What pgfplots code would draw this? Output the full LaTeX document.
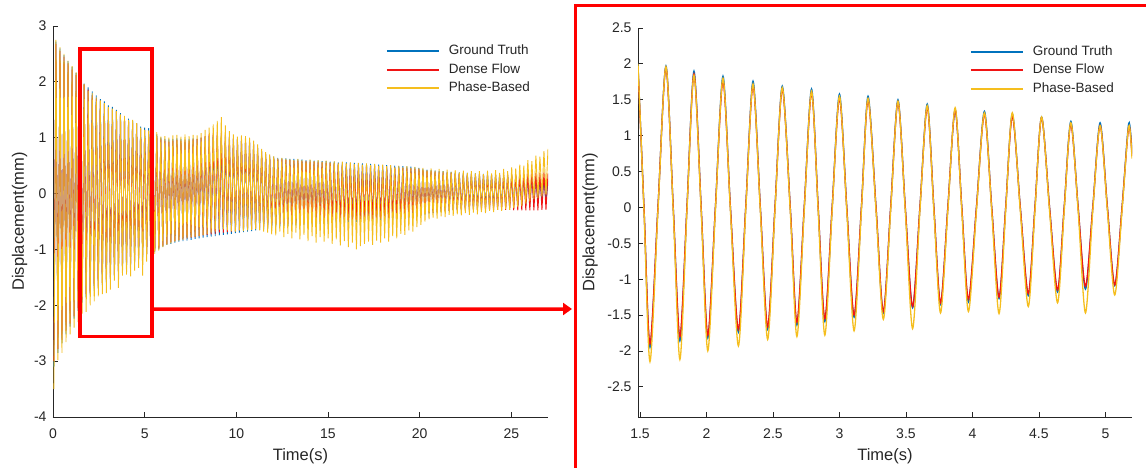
\documentclass[border=0pt]{standalone}
\usepackage{pgfplots}
\pgfplotsset{compat=1.18}
\usepackage{pgfplotstable}
\usepackage{fontspec}
\setmainfont{Liberation Sans}
\usetikzlibrary{arrows.meta}

\definecolor{gtc}{RGB}{0,114,189}
\definecolor{dfc}{RGB}{240,20,20}
\definecolor{pbc}{RGB}{245,190,30}
\definecolor{axc}{RGB}{38,38,38}

\pgfplotstableread{
t gt df pb
0.05 -3.10 -3.00 -3.50
0.16 2.72 2.68 2.75
0.27 -2.85 -2.78 -2.98
0.38 2.60 2.55 2.62
0.49 -2.68 -2.62 -2.85
0.60 2.48 2.45 2.50
0.71 -2.52 -2.46 -2.66
0.82 2.37 2.33 2.38
0.93 -2.38 -2.33 -2.52
1.04 2.27 2.22 2.28
1.15 -2.24 -2.20 -2.40
1.26 2.16 2.12 2.17
1.37 -2.10 -2.05 -2.30
1.48 2.04 2.00 2.03
1.59 -1.95 -1.90 -2.15
1.70 1.97 1.95 1.96
1.81 -1.86 -1.80 -2.12
1.92 1.90 1.86 1.84
2.03 -1.82 -1.78 -2.00
2.14 1.83 1.76 1.80
2.25 -1.74 -1.70 -1.93
2.36 1.76 1.70 1.72
2.47 -1.70 -1.66 -1.84
2.58 1.69 1.65 1.67
2.69 -1.64 -1.60 -1.80
2.80 1.65 1.60 1.62
2.91 -1.59 -1.55 -1.78
3.02 1.58 1.52 1.55
3.13 -1.53 -1.50 -1.72
3.24 1.55 1.50 1.52
3.35 -1.47 -1.45 -1.56
3.46 1.50 1.47 1.48
3.57 -1.40 -1.38 -1.69
3.68 1.44 1.40 1.42
3.79 -1.35 -1.33 -1.47
3.90 1.36 1.36 1.39
4.01 -1.32 -1.28 -1.45
4.12 1.34 1.30 1.32
4.23 -1.27 -1.25 -1.48
4.34 1.30 1.27 1.32
4.45 -1.23 -1.20 -1.38
4.56 1.26 1.25 1.26
4.67 -1.18 -1.15 -1.33
4.78 1.20 1.16 1.18
4.89 -1.14 -1.10 -1.47
5.00 1.18 1.14 1.14
5.11 -1.09 -1.08 -1.22
5.22 1.17 1.12 1.13
5.33 -1.06 -1.04 -1.15
5.44 1.12 1.08 1.10
5.55 -1.05 -1.02 -1.08
5.66 1.06 1.03 1.10
5.77 -1.00 -0.98 -1.02
5.88 1.00 0.97 1.02
5.99 -0.95 -0.93 -0.96
6.10 0.98 0.95 1.03
6.21 -0.92 -0.90 -0.92
6.32 0.97 0.93 1.00
6.43 -0.90 -0.87 -0.89
6.54 0.98 0.95 1.04
6.65 -0.88 -0.85 -0.86
6.76 0.99 0.96 1.05
6.87 -0.86 -0.83 -0.84
6.98 0.98 0.95 1.02
7.09 -0.85 -0.82 -0.83
7.20 0.97 0.96 1.06
7.31 -0.84 -0.80 -0.80
7.42 0.98 0.95 1.03
7.53 -0.83 -0.79 -0.78
7.64 0.99 0.97 1.05
7.75 -0.81 -0.78 -0.77
7.86 0.98 0.98 1.04
7.97 -0.80 -0.76 -0.76
8.08 1.00 1.00 1.08
8.19 -0.79 -0.75 -0.74
8.30 1.02 1.03 1.14
8.41 -0.78 -0.74 -0.72
8.52 1.03 1.06 1.18
8.63 -0.77 -0.73 -0.70
8.74 1.04 1.08 1.24
8.85 -0.76 -0.72 -0.68
8.96 1.05 1.10 1.30
9.07 -0.75 -0.70 -0.65
9.18 1.04 1.08 1.37
9.29 -0.74 -0.70 -0.64
9.40 1.02 1.05 1.22
9.51 -0.73 -0.69 -0.66
9.62 1.00 1.02 1.12
9.73 -0.72 -0.68 -0.67
9.84 0.98 0.99 1.06
9.95 -0.71 -0.67 -0.68
10.06 0.97 0.97 1.02
10.17 -0.70 -0.66 -0.66
10.28 0.96 0.96 1.04
10.39 -0.69 -0.65 -0.67
10.50 0.95 0.95 1.03
10.61 -0.68 -0.64 -0.66
10.72 0.93 0.92 1.00
10.83 -0.67 -0.63 -0.65
10.94 0.88 0.88 0.95
11.05 -0.66 -0.62 -0.64
11.16 0.82 0.82 0.88
11.27 -0.65 -0.61 -0.66
11.38 0.76 0.75 0.80
11.49 -0.64 -0.60 -0.68
11.60 0.71 0.70 0.74
11.71 -0.63 -0.59 -0.70
11.82 0.68 0.66 0.70
11.93 -0.62 -0.58 -0.73
12.04 0.66 0.64 0.67
12.15 -0.60 -0.56 -0.75
12.26 0.64 0.62 0.63
12.37 -0.59 -0.55 -0.68
12.48 0.63 0.61 0.64
12.59 -0.58 -0.55 -0.78
12.70 0.63 0.60 0.62
12.81 -0.58 -0.54 -0.72
12.92 0.62 0.60 0.61
13.03 -0.57 -0.54 -0.80
13.14 0.62 0.59 0.60
13.25 -0.57 -0.53 -0.70
13.36 0.61 0.59 0.62
13.47 -0.56 -0.53 -0.82
13.58 0.61 0.58 0.60
13.69 -0.56 -0.52 -0.74
13.80 0.60 0.58 0.59
13.91 -0.55 -0.52 -0.85
14.02 0.60 0.57 0.61
14.13 -0.55 -0.51 -0.76
14.24 0.59 0.57 0.58
14.35 -0.55 -0.51 -0.88
14.46 0.59 0.56 0.60
14.57 -0.54 -0.50 -0.78
14.68 0.58 0.56 0.57
14.79 -0.54 -0.50 -0.86
14.90 0.58 0.55 0.59
15.01 -0.54 -0.50 -0.80
15.12 0.57 0.55 0.56
15.23 -0.53 -0.49 -0.90
15.34 0.57 0.54 0.58
15.45 -0.53 -0.49 -0.82
15.56 0.56 0.54 0.55
15.67 -0.53 -0.49 -0.93
15.78 0.56 0.53 0.57
15.89 -0.52 -0.48 -0.85
16.00 0.56 0.53 0.54
16.11 -0.52 -0.48 -0.96
16.22 0.55 0.52 0.56
16.33 -0.52 -0.48 -0.88
16.44 0.55 0.52 0.53
16.55 -0.51 -0.47 -1.00
16.66 0.54 0.51 0.55
16.77 -0.51 -0.47 -0.94
16.88 0.54 0.51 0.52
16.99 -0.51 -0.47 -0.90
17.10 0.53 0.50 0.54
17.21 -0.50 -0.46 -0.86
17.32 0.53 0.50 0.51
17.43 -0.50 -0.46 -0.92
17.54 0.52 0.49 0.53
17.65 -0.50 -0.46 -0.84
17.76 0.52 0.49 0.50
17.87 -0.49 -0.45 -0.88
17.98 0.51 0.48 0.52
18.09 -0.49 -0.45 -0.80
18.20 0.51 0.48 0.49
18.31 -0.48 -0.44 -0.86
18.42 0.50 0.47 0.51
18.53 -0.48 -0.44 -0.76
18.64 0.50 0.47 0.48
18.75 -0.47 -0.43 -0.80
18.86 0.49 0.46 0.50
18.97 -0.46 -0.42 -0.72
19.08 0.49 0.46 0.47
19.19 -0.45 -0.42 -0.74
19.30 0.48 0.45 0.49
19.41 -0.44 -0.41 -0.66
19.52 0.48 0.45 0.46
19.63 -0.43 -0.40 -0.68
19.74 0.47 0.44 0.48
19.85 -0.42 -0.40 -0.60
19.96 0.46 0.44 0.45
20.07 -0.40 -0.38 -0.56
20.18 0.44 0.42 0.46
20.29 -0.38 -0.36 -0.50
20.40 0.43 0.41 0.42
20.51 -0.36 -0.35 -0.46
20.62 0.42 0.40 0.45
20.73 -0.35 -0.34 -0.43
20.84 0.41 0.39 0.41
20.95 -0.34 -0.33 -0.45
21.06 0.40 0.38 0.44
21.17 -0.33 -0.32 -0.41
21.28 0.40 0.38 0.40
21.39 -0.32 -0.31 -0.42
21.50 0.39 0.37 0.43
21.61 -0.31 -0.31 -0.38
21.72 0.39 0.37 0.39
21.83 -0.30 -0.30 -0.40
21.94 0.38 0.36 0.42
22.05 -0.30 -0.30 -0.37
22.16 0.38 0.36 0.38
22.27 -0.29 -0.30 -0.39
22.38 0.37 0.35 0.41
22.49 -0.28 -0.30 -0.35
22.60 0.37 0.35 0.37
22.71 -0.28 -0.29 -0.38
22.82 0.36 0.35 0.40
22.93 -0.27 -0.29 -0.34
23.04 0.36 0.34 0.36
23.15 -0.27 -0.29 -0.37
23.26 0.35 0.34 0.40
23.37 -0.26 -0.29 -0.33
23.48 0.35 0.34 0.35
23.59 -0.26 -0.29 -0.35
23.70 0.35 0.33 0.41
23.81 -0.25 -0.29 -0.31
23.92 0.34 0.33 0.36
24.03 -0.25 -0.29 -0.33
24.14 0.34 0.33 0.42
24.25 -0.24 -0.29 -0.29
24.36 0.34 0.33 0.37
24.47 -0.24 -0.29 -0.31
24.58 0.33 0.33 0.44
24.69 -0.23 -0.29 -0.28
24.80 0.33 0.33 0.40
24.91 -0.23 -0.29 -0.29
25.02 0.33 0.34 0.47
25.13 -0.22 -0.30 -0.26
25.24 0.32 0.34 0.45
25.35 -0.22 -0.30 -0.24
25.46 0.32 0.35 0.52
25.57 -0.21 -0.30 -0.22
25.68 0.31 0.35 0.50
25.79 -0.20 -0.30 -0.18
25.90 0.30 0.36 0.60
26.01 -0.19 -0.30 -0.14
26.12 0.30 0.36 0.58
26.23 -0.18 -0.30 -0.10
26.34 0.28 0.37 0.68
26.45 -0.17 -0.30 -0.08
26.56 0.26 0.37 0.66
26.67 -0.16 -0.29 -0.05
26.78 0.25 0.38 0.76
26.89 -0.15 -0.29 -0.02
27.00 0.22 0.36 0.80
}\leftdata

\pgfplotstableread{
t gt df pb
1.485 1.98 1.95 2.00
1.530 0.00 0.00 -0.05
1.575 -1.95 -1.90 -2.15
1.635 0.00 0.00 -0.05
1.695 1.97 1.95 1.96
1.750 0.00 0.00 -0.05
1.800 -1.86 -1.80 -2.12
1.853 0.00 0.00 -0.05
1.906 1.90 1.86 1.84
1.960 0.00 0.00 -0.05
2.010 -1.82 -1.78 -2.00
2.067 0.00 0.00 -0.05
2.124 1.83 1.76 1.80
2.180 0.00 0.00 -0.05
2.240 -1.74 -1.70 -1.93
2.295 0.00 0.00 -0.05
2.350 1.76 1.70 1.72
2.405 0.00 0.00 -0.05
2.460 -1.70 -1.66 -1.84
2.515 0.00 0.00 -0.05
2.570 1.69 1.65 1.67
2.630 0.00 0.00 -0.05
2.680 -1.64 -1.60 -1.80
2.735 0.00 0.00 -0.05
2.790 1.65 1.60 1.62
2.840 0.00 0.00 -0.05
2.890 -1.59 -1.55 -1.78
2.945 0.00 0.00 -0.05
3.000 1.58 1.52 1.55
3.055 0.00 0.00 -0.05
3.110 -1.53 -1.50 -1.72
3.165 0.00 0.00 -0.05
3.215 1.55 1.50 1.52
3.275 0.00 0.00 -0.05
3.330 -1.47 -1.45 -1.56
3.385 0.00 0.00 -0.05
3.440 1.50 1.47 1.48
3.495 0.00 0.00 -0.05
3.550 -1.40 -1.38 -1.69
3.605 0.00 0.00 -0.05
3.660 1.44 1.40 1.42
3.710 0.00 0.00 -0.05
3.760 -1.35 -1.33 -1.47
3.815 0.00 0.00 -0.05
3.870 1.36 1.36 1.39
3.920 0.00 0.00 -0.05
3.970 -1.32 -1.28 -1.45
4.030 0.00 0.00 -0.05
4.090 1.34 1.30 1.32
4.145 0.00 0.00 -0.05
4.200 -1.27 -1.25 -1.48
4.250 0.00 0.00 -0.05
4.300 1.30 1.27 1.32
4.360 0.00 0.00 -0.05
4.420 -1.23 -1.20 -1.38
4.470 0.00 0.00 -0.05
4.520 1.26 1.25 1.26
4.580 0.00 0.00 -0.05
4.640 -1.18 -1.15 -1.33
4.690 0.00 0.00 -0.05
4.740 1.20 1.16 1.18
4.795 0.00 0.00 -0.05
4.850 -1.14 -1.10 -1.47
4.905 0.00 0.00 -0.05
4.960 1.18 1.14 1.14
5.015 0.00 0.00 -0.05
5.070 -1.09 -1.08 -1.22
5.125 0.00 0.00 -0.05
5.175 1.17 1.12 1.13
5.200 0.75 0.72 0.68
}\rightdata

\pgfplotsset{
  mstyle/.style={
    scale only axis, anchor=south west,
    axis x line*=bottom, axis y line*=left,
    axis line style={axc, line width=0.8pt, -},
    tick align=inside, major tick length=5pt,
    tick style={axc, line width=0.8pt},
    tick label style={font=\fontsize{14}{16}\selectfont, text=axc},
    xticklabel style={yshift=-8pt},
    yticklabel style={xshift=-3pt},
    /pgf/number format/assume math mode=true,
    label style={font=\fontsize{16.5}{19}\selectfont, text=axc},
    legend cell align=left,
    legend style={draw=none, fill=white, font=\fontsize{13.5}{16}\selectfont, text=axc,
      anchor=north east, inner sep=3pt,
      nodes={inner sep=2pt, text height=10pt, text depth=3pt}, row sep=1.5pt,
      /tikz/every odd column/.append style={column sep=7pt}},
    legend image code/.code={\draw[##1, line width=2pt] (0pt,0pt) -- (52pt,0pt);},
  }
}

\begin{document}
\begin{tikzpicture}[x=1pt,y=1pt]
\path[use as bounding box] (0,0) rectangle (1146,467);
\begin{axis}[mstyle,
  at={(53pt,50pt)}, width=495pt, height=391pt,
  xmin=0, xmax=27, ymin=-4, ymax=3,
  xtick={0,5,10,15,20,25}, ytick={-4,-3,-2,-1,0,1,2,3},
  xlabel={Time(s)}, ylabel={Displacement(mm)},
  xlabel style={at={(axis description cs:0.5,-0.0997)}, anchor=center},
  ylabel style={at={(axis description cs:-0.0677,0.5)}, anchor=center},
  legend style={at={(axis description cs:0.974,0.965)}},
]
\addplot[gtc, line width=0.9pt] table[x=t, y=gt] {\leftdata};
\addlegendentry{Ground Truth}
\addplot[dfc, line width=0.9pt] table[x=t, y=df] {\leftdata};
\addlegendentry{Dense Flow}
\addplot[pbc, line width=0.9pt] table[x=t, y=pb] {\leftdata};
\addlegendentry{Phase-Based}
\draw[red, line width=3.5pt] (axis cs:1.47,-2.56) rectangle (axis cs:5.40,2.59);
\coordinate (A) at (axis cs:5.40,-2.07);
\end{axis}
\draw[red, line width=3.5pt, -{Triangle[length=9pt,width=12pt]}] (A) -- (572,158);

\begin{axis}[mstyle,
  at={(638pt,50pt)}, width=494pt, height=389pt,
  xmin=1.485, xmax=5.2, ymin=-2.92, ymax=2.5,
  xtick={1.5,2,2.5,3,3.5,4,4.5,5},
  ytick={-2.5,-2,-1.5,-1,-0.5,0,0.5,1,1.5,2,2.5},
  xlabel={Time(s)}, ylabel={Displacement(mm)},
  xlabel style={at={(axis description cs:0.5,-0.1003)}, anchor=center},
  ylabel style={at={(axis description cs:-0.0972,0.5)}, anchor=center},
  legend style={at={(axis description cs:0.974,0.969)}},
]
\addplot[gtc, line width=1.3pt, smooth] table[x=t, y=gt] {\rightdata};
\addlegendentry{Ground Truth}
\addplot[dfc, line width=1.3pt, smooth] table[x=t, y=df] {\rightdata};
\addlegendentry{Dense Flow}
\addplot[pbc, line width=1.3pt, smooth] table[x=t, y=pb] {\rightdata};
\addlegendentry{Phase-Based}
\end{axis}
\draw[red, line width=3pt] (575.5,-10) -- (575.5,461.3) -- (1160,461.3);
\end{tikzpicture}
\end{document}
